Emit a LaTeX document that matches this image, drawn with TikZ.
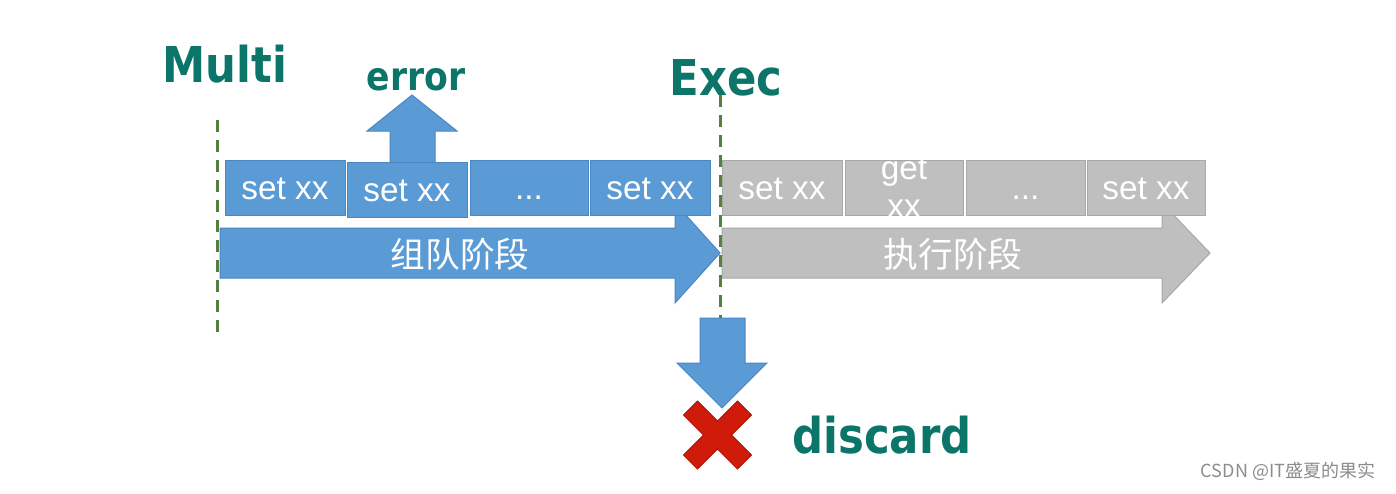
\documentclass[tikz,border=0pt]{standalone}
\usepackage{fontspec}
\newfontfamily\titlefont[FakeStretch=0.88]{DejaVu Sans}
\newfontfamily\boxfont{Liberation Sans}
\newfontfamily\cjk{Noto Sans CJK SC}
\definecolor{tealT}{HTML}{0B7569}
\definecolor{blueF}{HTML}{5B9BD5}
\definecolor{blueD}{HTML}{4A86C2}
\definecolor{grayF}{HTML}{BFBFBF}
\definecolor{grayD}{HTML}{A8A8A8}
\definecolor{dashG}{HTML}{55803F}
\definecolor{redF}{HTML}{D01A0A}
\definecolor{redD}{HTML}{A81000}
\definecolor{wmark}{HTML}{8C8C8C}
\begin{document}
\begin{tikzpicture}[x=0.75pt,y=-0.75pt,
  title/.style={text=tealT, inner sep=0pt, font=\titlefont\bfseries\fontsize{37}{40}\selectfont},
  errtitle/.style={text=tealT, inner sep=0pt, font=\titlefont\bfseries\fontsize{29.5}{32}\selectfont},
  boxbase/.style={line width=0.75pt, minimum height=41.25pt, inner sep=0pt, text=white,
     text height=18pt, text depth=0pt, font=\boxfont\fontsize{25}{28.5}\selectfont},
  bbox/.style={boxbase, draw=blueD, fill=blueF},
  gbox/.style={boxbase, draw=grayD, fill=grayF},
  boxtext/.style={inner sep=0pt, text=white, align=center, font=\boxfont\fontsize{25}{28.5}\selectfont},
  phase/.style={inner sep=0pt, text=white, font=\cjk\fontsize{26}{30}\selectfont},
  blueshape/.style={fill=blueF, draw=blueD, line width=0.75pt, line join=miter},
  grayshape/.style={fill=grayF, draw=grayD, line width=0.75pt, line join=miter},
  guide/.style={draw=dashG, line width=2.25pt, dash pattern=on 9pt off 6pt}
]
\useasboundingbox (0,0) rectangle (1396,493);
\fill[white] (0,0) rectangle (1396,493);

% big phase arrows
\path[blueshape] (220,228) -- (675,228) -- (675,203) -- (720,253) -- (675,303) -- (675,278) -- (220,278) -- cycle;
\path[grayshape] (722,228) -- (1162,228) -- (1162,203) -- (1210,253) -- (1162,303) -- (1162,278) -- (722,278) -- cycle;
\node[phase] (p1) at (460,254) {组队阶段};
\node[phase] (p2) at (953,254) {执行阶段};

% error arrow
\path[blueshape] (390,164) -- (390,131) -- (367,131) -- (412,95) -- (457,131) -- (435,131) -- (435,164) -- cycle;

% command boxes (queue)
\node[bbox, minimum width=90pt] (b1) at (285,187.5) {set xx};
\node[bbox, minimum width=90pt] (b2) at (407,189.5) {set xx};
\node[bbox, minimum width=88.5pt] (b3) at (529,187.5) {...};
\node[bbox, minimum width=90pt] (b4) at (650,187.5) {set xx};

% command boxes (exec)
\node[gbox, minimum width=90pt] (g1) at (782,187.5) {set xx};
\node[gbox, minimum width=88.5pt] (g2) at (904,187.5) {};
\node[boxtext] (g2t) at (904,187.5) {get\\xx};
\node[gbox, minimum width=89.25pt] (g3) at (1025.5,187.5) {...};
\node[gbox, minimum width=88.5pt] (g4) at (1146,187.5) {set xx};

% dashed guides
\coordinate (m1) at (217,120);
\coordinate (m2) at (217,333);
\coordinate (e1) at (720,95);
\coordinate (e2) at (720,333);
\draw[guide] (m1) -- (m2);
\draw[guide] (e1) -- (e2);

% titles
\node[title] (multi) at (225,64) {Multi};
\node[title] (exec) at (726,78) {Exec};
\node[errtitle] (err) at (416,80) {error};
\node[title] (disc) at (882,435) {discard};

% red cross
\begin{scope}[shift={(717.5,435)}]
\path[fill=redF, draw=redD, line width=0.75pt, line join=miter]
  (-34,-20) -- (-20,-34) -- (0,-14) -- (20,-34) -- (34,-20) -- (14,0) --
  (34,20) -- (20,34) -- (0,14) -- (-20,34) -- (-34,20) -- (-14,0) -- cycle;
\end{scope}

% discard arrow
\path[blueshape] (700,318) -- (745,318) -- (745,363) -- (767,363) -- (722,408) -- (677,363) -- (700,363) -- cycle;

% watermark
\node[inner sep=0pt, text=wmark, font=\cjk\fontsize{13.5}{15}\selectfont] (wm) at (1288,471) {CSDN @IT盛夏的果实};
\end{tikzpicture}
\end{document}
